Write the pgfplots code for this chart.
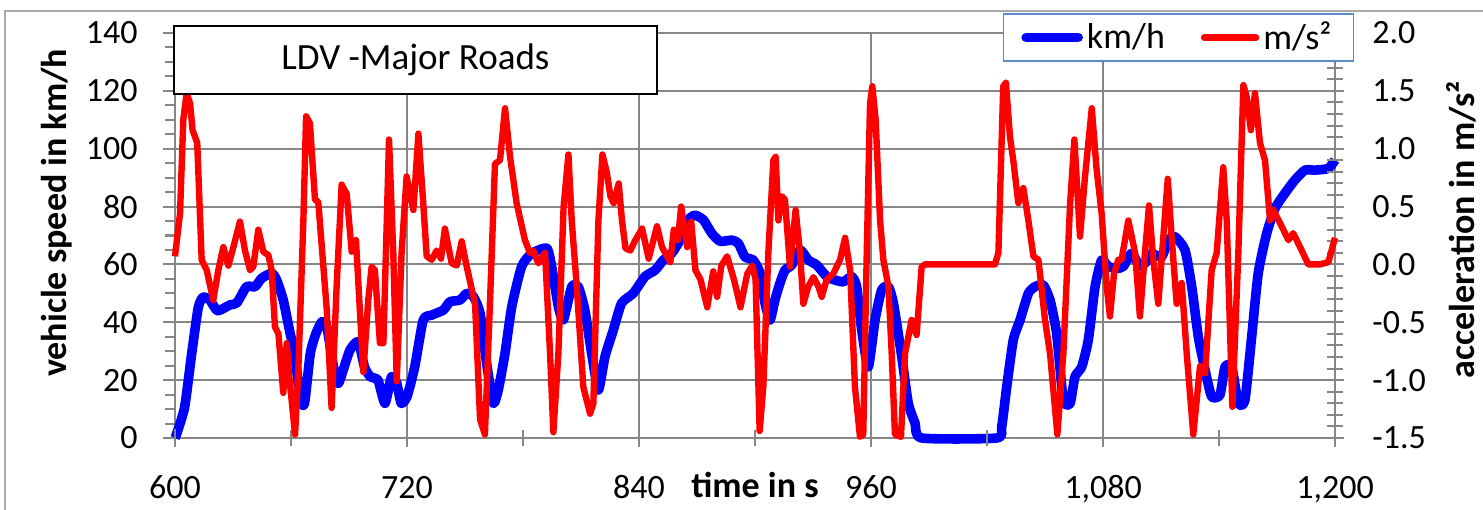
\documentclass[border=0pt]{standalone}
\usepackage{fontspec}
\setmainfont{Carlito}
\usepackage{pgfplots}
\usepackage{pgfplotstable}
\pgfplotsset{compat=1.18}

\definecolor{gridgray}{RGB}{134,134,134}
\definecolor{framegray}{RGB}{170,170,170}
\definecolor{legendframe}{RGB}{91,139,200}

\newcommand\tickfont{\fontsize{17}{20}\selectfont}
\newcommand\labelfont{\fontsize{18}{21}\selectfont\bfseries}
\newcommand\titlefont{\fontsize{18.5}{22}\selectfont}
\newcommand\legendfont{\fontsize{18}{21}\selectfont}

% vehicle speed (km/h) over time (s)
\pgfplotstableread{
t v
600 0
601 1.7
605 10.7
608.6 29
612 45
614.5 48.7
618 47.7
622 44
628.4 46
632 46.7
637 52.3
641.4 52.3
644.8 55.2
650 57
652.6 54.6
656 47.7
659.5 36.3
662 29.3
664.7 13.1
667 12
670 29.3
673 36.3
676 40.2
678.5 38.5
682 24.6
684.5 18.9
687 23.5
690.5 30.4
694.8 33.3
698 24.6
701 21.2
705 20
708.6 12
712 21.2
714.7 18.9
717 12
720 14.3
724 24.6
728.4 40.8
732.8 42.5
738.8 44.2
742.2 47.1
747.4 47.7
750.9 50
754.3 48.9
757.8 43.1
761.2 25.8
764.6 12
767.2 16.6
770.7 29.3
774.2 45.4
779.3 59.3
784.5 63.8
792.3 65.6
794.8 59.3
798.3 45.4
800.9 40.8
805.2 52.3
808.6 52.3
812 44.2
815.5 29.3
819 16.6
822.4 28.1
826.7 37.3
831 46.6
837 50
843.1 55.8
848.3 58
852.6 61.5
856.9 63.8
861.2 68.4
865.5 75.4
869 77
873.3 75.4
877.6 70.8
881.9 68
888 68.4
891.4 67.3
894.8 62.6
899.1 61.5
902.6 57
905.2 46.6
907.8 40.8
910.3 47.7
912.9 53.5
915.5 58
919 59.8
923.3 65
927.6 61.5
931.9 59.8
937.1 55.8
941.4 54.6
945.7 54
950 55.8
952.6 52.3
955.2 37.3
958.6 24.6
962.1 40.8
965.5 51.2
969 52.3
971.6 46.6
975.9 28.1
979.3 12
982.8 5.1
986.2 0
1025 0
1027.6 3.9
1030.2 17.7
1033.6 33.9
1037.1 40.8
1041.4 50
1044.8 52.3
1049.1 52.9
1052.6 47.7
1056 36.2
1059.5 13.1
1063 12
1065.5 21.2
1069 24.6
1072.4 33.9
1075.9 52.3
1079.3 61.5
1082.8 59.3
1087.1 58.6
1090.5 59.3
1094.8 63.8
1099.1 59.3
1102.5 61
1105.2 63.8
1110.3 62.6
1113.8 68.4
1117.2 69.6
1122.4 65
1125.9 52.3
1129.3 35
1132.8 23.5
1136.2 14.3
1140.5 14.9
1143.1 24.6
1146.6 24.6
1150 12
1153.4 13.1
1156.9 35
1160.3 57
1164.7 70.8
1169 79.4
1174.1 84.6
1179.3 89.2
1184.5 92.6
1189.7 92.6
1196.6 93.2
1200 96.1
}\speedtable

% acceleration (m/s^2) over time (s)
\pgfplotstableread{
t a
600 0.07
602.6 0.44
604.3 1.25
606 1.48
607.8 1.39
609.1 1.16
611.5 1.05
613.8 0.04
616.4 -0.05
619.8 -0.31
622.4 -0.05
625 0.15
627.6 -0.01
630.2 0.15
633.6 0.37
636.2 0.12
638.8 -0.05
640.5 -0.02
643.1 0.30
645.7 0.11
648.3 0.08
650 -0.05
651.7 -0.54
653.5 -0.60
656 -1.11
657.8 -0.68
659.1 -0.97
662.1 -1.47
663.8 -0.91
666.4 0.38
667.8 1.28
669.8 1.22
672.4 0.56
674.1 0.54
678.5 -0.39
681 -1.24
683.6 -0.19
686.2 0.69
688.8 0.61
691.4 0.11
693.6 0.21
697.4 -0.93
700 -0.3
701.7 -0.02
703.4 -0.05
706 -0.68
707.8 -0.68
710.7 1.08
712.9 0.10
714.7 -1.01
717.2 0.10
719.8 0.76
723.3 0.47
725.9 1.13
728.4 0.53
730.2 0.07
732.8 0.04
735.3 0.12
737.6 0.05
739.6 0.31
743.1 0.01
745.7 -0.01
748.3 0.20
750.9 -0.02
755.2 -0.34
757.8 -1.34
760.3 -1.47
762.9 -0.34
765.5 0.87
768.1 0.90
770.7 1.35
773.3 0.93
776.7 0.53
781 0.21
783.6 0.10
785.3 0.12
787.9 0.01
791.4 0.10
794 -0.77
795.7 -1.45
798.3 -0.77
801 0.50
803.5 0.95
805.2 0.38
807.8 -0.19
811.2 -1.06
814.7 -1.29
816.4 -1.20
819 0.38
821.1 0.95
823.4 0.79
825.2 0.59
826.9 0.53
829.5 0.70
831.2 0.38
833 0.14
835.5 0.12
838.1 0.21
841.6 0.31
845 0.05
849.3 0.33
851.9 0.15
856.2 0.02
858 0.30
860.1 0.21
861.8 0.50
864.9 0.15
867 0.37
869.2 -0.05
871.8 -0.13
875.3 -0.37
878.4 -0.06
880.4 -0.28
882.6 -0.01
885.6 0.07
889.1 -0.13
892.5 -0.37
896 -0.08
898.6 -0.01
900.3 -0.13
902.4 -1.44
904.3 -1.06
906.9 0.10
909.5 0.90
910.7 0.93
912.1 0.38
913.8 0.59
915.5 0.56
918.1 -0.02
921 0.47
923.3 0.10
925 -0.34
927.6 -0.19
930.2 -0.11
932.8 -0.19
934.5 -0.28
937.1 -0.13
940.5 -0.08
944 0.04
946.6 0.23
949.2 -0.05
951.7 -1.06
954.3 -1.49
956 -1.47
957.8 0.10
959.5 1.39
960.7 1.54
962.4 1.25
964.7 0.38
966.4 0.04
969 -0.19
970.7 -0.77
972.4 -1.47
975.5 -1.49
977.6 -0.77
981 -0.48
983.6 -0.61
986.2 -0.02
987.9 0
1024.1 0
1025.9 0.10
1028.4 1.54
1029.8 1.57
1031.9 1.10
1033.6 0.90
1036.2 0.53
1038.8 0.66
1041.4 0.38
1044 0.07
1046.6 0.04
1050 -0.48
1052.6 -0.77
1056.4 -1.47
1059.5 -0.77
1063 0.53
1065.2 1.08
1068.1 0.24
1070.7 0.76
1074.2 1.35
1076.7 0.82
1079.3 0.44
1081.9 -0.19
1083.6 -0.45
1085.7 -0.08
1087.9 0.04
1089.6 0.04
1093.1 0.38
1096.6 0.10
1099.1 -0.45
1101.7 0.10
1103.8 0.51
1106 0.04
1108.6 -0.34
1111.2 0.24
1113.5 0.74
1115.5 0.24
1118.1 -0.34
1120.7 -0.16
1123.3 -0.77
1126.7 -1.47
1130.2 -0.88
1132.8 -0.94
1136.2 -0.05
1138.8 0.10
1142.2 0.84
1144 0.38
1146.9 -1.23
1150 0.10
1152.6 1.55
1154.3 1.45
1156.5 1.16
1158.6 1.48
1161.2 1.05
1163.8 0.90
1166.4 0.38
1168.1 0.47
1172.4 0.33
1175.9 0.21
1178.4 0.27
1182.8 0.12
1186.2 0
1192.2 0
1196.6 0.02
1200 0.23
}\acceltable

\begin{document}
\begin{tikzpicture}
\path[use as bounding box] (-87.5pt,-35.5pt) rectangle (654pt,219pt);
% chart area frame
\draw[framegray, line width=1pt] (-85pt,-80pt) -- (-85pt,213.5pt) -- (700pt,213.5pt);

% left axis: speed (its grid also frames the plot area, beneath the curves)
\begin{axis}[
  at={(0pt,0pt)}, anchor=south west,
  scale only axis, width=580pt, height=202.5pt,
  xmin=600, xmax=1200, ymin=0, ymax=140,
  clip=false,
  axis x line*=bottom, axis y line*=left,
  axis line style={draw=none},
  xtick={600,720,...,1200}, xticklabels={},
  x tick style={draw=none},
  ytick={0,20,...,140}, minor y tick num=3,
  y tick style={gridgray, line width=1pt},
  tick align=outside, major tick length=6pt, minor tick length=5pt,
  xmajorgrids, ymajorgrids,
  major grid style={gridgray, line width=1pt},
  /pgf/number format/assume math mode=true,
  yticklabel style={font=\tickfont, anchor=east, inner sep=0pt, xshift=-12.5pt},
  ylabel={vehicle speed in km/h},
  ylabel style={font=\labelfont, at={(axis description cs:-0.1017,0.556)}, anchor=center},
]
\addplot[blue, line width=4.8pt, line join=round, smooth, tension=0.35] table[x=t, y=v] {\speedtable};
\end{axis}

% right axis: acceleration
\begin{axis}[
  at={(0pt,0pt)}, anchor=south west,
  scale only axis, width=580pt, height=202.5pt,
  xmin=600, xmax=1200, ymin=-1.5, ymax=2.0,
  clip=false,
  axis x line*=bottom, axis y line*=right,
  axis line style={draw=none},
  xtick={600,720,...,1200}, minor xtick={660,780,...,1140},
  ytick={-1.5,-1,...,2}, minor y tick num=4,
  tick style={gridgray, line width=1pt},
  tick align=center, major tick length=9pt, minor tick length=8pt,
  /pgf/number format/assume math mode=true,
  xticklabel style={font=\tickfont, anchor=base, inner sep=0pt, yshift=-25.5pt,
    /pgf/number format/1000 sep={,}},
  yticklabel style={font=\tickfont, anchor=west, inner sep=0pt, xshift=14pt,
    /pgf/number format/.cd, fixed, fixed zerofill, precision=1},
  xlabel={time in s},
  xlabel style={font=\labelfont, at={(axis description cs:0.5,-0.148)}, anchor=base},
  ylabel={acceleration in m/s²},
  ylabel style={font=\labelfont, at={(axis description cs:1.1086,0.514)}, anchor=center},
  legend columns=2,
  legend style={at={(axis description cs:0.865,0.989)}, anchor=center,
    draw=legendframe, line width=0.8pt, fill=white, font=\legendfont,
    inner xsep=9pt, inner ysep=2pt,
    /tikz/every even column/.append style={column sep=16pt}},
  legend image code/.code={\draw[#1, line cap=round] (0pt,0pt) -- (26pt,0pt);},
]
\addlegendimage{blue, line width=4.8pt}
\addlegendentry{km/h}
\addplot[red, line width=3.2pt, line join=round] table[x=t, y=a] {\acceltable};
\addlegendentry{m/s²}
\node[draw=black, line width=1pt, fill=white, minimum width=241.5pt, minimum height=34pt,
  inner sep=0pt, font=\titlefont] at (rel axis cs:0.2073,0.9333) {LDV -Major Roads};
\end{axis}
\end{tikzpicture}
\end{document}
